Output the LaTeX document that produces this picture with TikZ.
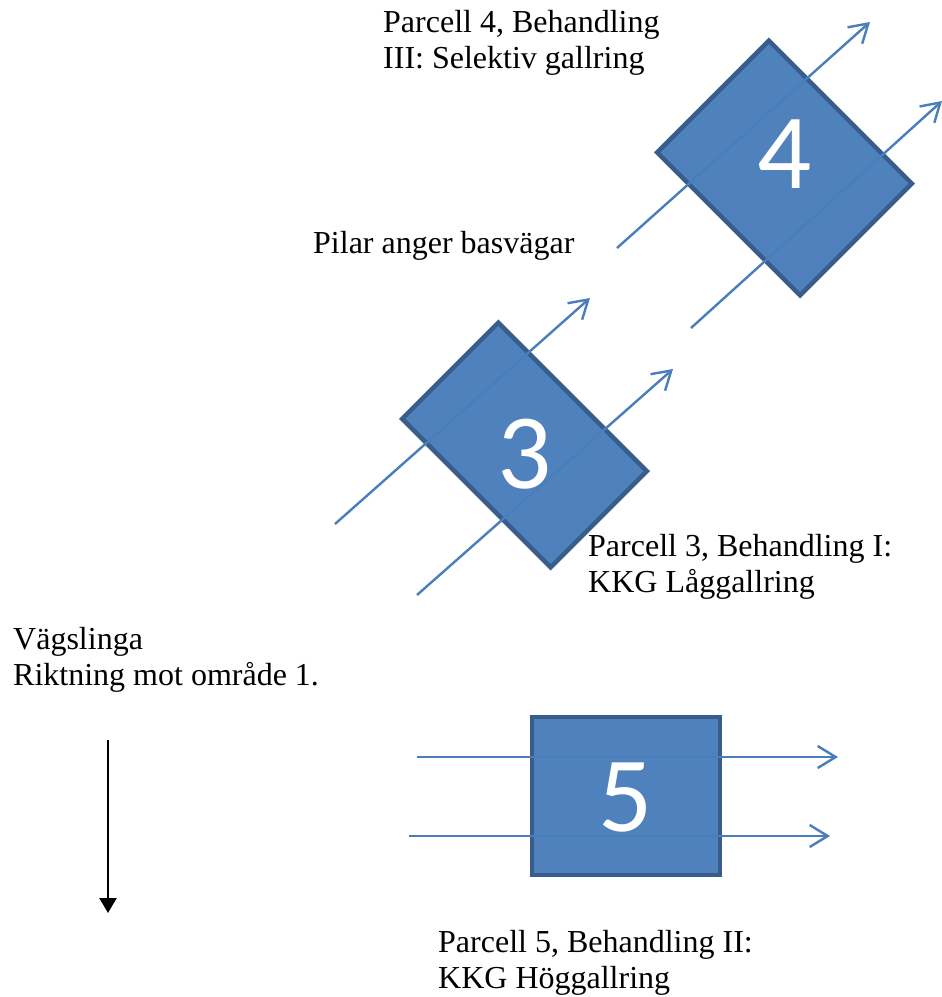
\documentclass[tikz,border=0pt]{standalone}
\usepackage{fontspec}
\setmainfont{Liberation Serif}
\newfontfamily\digitfont{Carlito}
\usetikzlibrary{arrows.meta}

\definecolor{parcelfill}{HTML}{4F81BD}
\definecolor{parceledge}{HTML}{385D8A}
\definecolor{roadblue}{HTML}{4A7EBB}

\tikzset{
  parcel/.style={rectangle, draw=parceledge, fill=parcelfill, line width=4.5pt, inner sep=0pt},
  digit/.style={text=white, font=\digitfont\fontsize{107}{107}\selectfont, inner sep=0pt},
  road/.style={draw=roadblue, line width=2.4pt, -{Straight Barb[length=18pt,width=22pt,line width=2.4pt]}},
  caption/.style={anchor=base west, align=left, inner sep=0pt, font=\fontsize{32}{36}\selectfont}
}

\begin{document}
\begin{tikzpicture}[x=1pt,y=-1pt]
 \useasboundingbox (0,0) rectangle (942,997);
  % Define the parcels
  \node[parcel, minimum width=202pt, minimum height=158pt, rotate=-45] (sq4) at (784.5,168) {};
  \node[parcel, minimum width=210pt, minimum height=136pt, rotate=-45] (sq3) at (524.5,445) {};
  \node[parcel, minimum width=188pt, minimum height=158pt] (sq5) at (626,796) {};
  \node[digit] (n4) at (784.5,154) {4};
  \node[digit] (n3) at (524.5,454) {3};
  \node[digit] (n5) at (626,797.5) {5};
  % Define the road ends
  \coordinate (a4s) at (617,248);  \coordinate (a4e) at (870,22);
  \coordinate (b4s) at (691,328);  \coordinate (b4e) at (942,101);
  \coordinate (a3s) at (335,524);  \coordinate (a3e) at (590,298);
  \coordinate (b3s) at (417,595);  \coordinate (b3e) at (673,369);
  \coordinate (a5s) at (417,757);  \coordinate (a5e) at (838,757);
  \coordinate (b5s) at (409,836);  \coordinate (b5e) at (830,836);
  \coordinate (vs) at (108,740);   \coordinate (ve) at (108,913);
  % Draw the roads
  \draw[road] (a4s) -- (a4e);
  \draw[road] (b4s) -- (b4e);
  \draw[road] (a3s) -- (a3e);
  \draw[road] (b3s) -- (b3e);
  \draw[road] (a5s) -- (a5e);
  \draw[road] (b5s) -- (b5e);
  \draw[line width=2.2pt, -{Triangle[length=15pt,width=17pt]}] (vs) -- (ve);
  % Labeling (base = last line)
  \node[caption] (t4) at (383,68) {Parcell 4, Behandling\\III: Selektiv gallring};
  \node[caption] (tp) at (313,253) {Pilar anger basvägar};
  \node[caption] (t3) at (588,592) {Parcell 3, Behandling I:\\KKG Låggallring};
  \node[caption] (tv) at (13,685) {Vägslinga\\Riktning mot område 1.};
  \node[caption] (t5) at (438,988) {Parcell 5, Behandling II:\\KKG Höggallring};
\end{tikzpicture}
\end{document}
